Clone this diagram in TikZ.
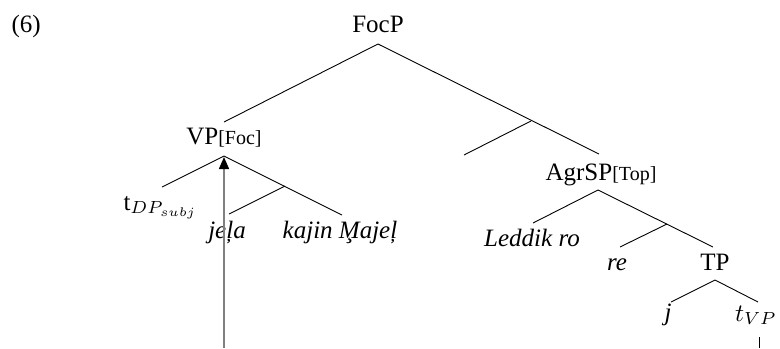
\documentclass[tikz,border=0pt]{standalone}
\usepackage{fontspec}
\setmainfont{Liberation Serif}
\usetikzlibrary{arrows.meta}
\newcommand{\Mced}{\ooalign{M\cr\hidewidth¸\hidewidth\cr}}
\begin{document}
\begin{tikzpicture}[x=0.4pt,y=-0.4pt,
  lbl/.style={inner sep=0pt,anchor=base,font=\fontsize{10}{12}\selectfont},
  branch/.style={draw=black,line width=0.36pt},
  movearrow/.style={draw=gray,line width=0.6pt,-{Triangle[length=4.8pt,width=4pt,color=black]}}]
\useasboundingbox (0,0) rectangle (780,348);
% labels
\node[lbl,anchor=base west] (ex) at (11,32) {(6)};
\node[lbl] (focp) at (378,32) {FocP};
\node[lbl] (vp) at (224,144) {VP{\fontsize{8}{10}\selectfont[Foc]}};
\node[lbl] (agrsp) at (601,180) {AgrSP{\fontsize{8}{10}\selectfont[Top]}};
\node[lbl,anchor=base west] (tdp) at (123,210) {t$_{DP_{subj}}$};
\node[lbl] (jela) at (227,238) {\itshape jeļa};
\node[lbl] (kajin) at (340,238) {\itshape kajin \Mced ajeļ};
\node[lbl] (leddik) at (532,246) {\itshape Leddik ro};
\node[lbl] (re) at (617,270) {\itshape re};
\node[lbl] (tp) at (715,270) {TP};
\node[lbl] (j) at (668,320) {\itshape j};
\node[lbl] (tvp) at (756,321) {$t_{VP}$};
% coordinates
\coordinate (focapex) at (378,44);
\coordinate (vptop) at (224,122);
\coordinate (agrtop) at (599,154);
\coordinate (focmid) at (531,121);
\coordinate (focspec) at (464,155);
\coordinate (vpapex) at (224,156);
\coordinate (tdptop) at (162,187);
\coordinate (kajintop) at (342,215);
\coordinate (vpmid) at (285,186);
\coordinate (jelatop) at (229,214);
\coordinate (agrapex) at (598,190);
\coordinate (leddiktop) at (533,223);
\coordinate (tptop) at (713,247);
\coordinate (agrmid) at (667,224);
\coordinate (retop) at (620,247);
\coordinate (tpapex) at (715,280);
\coordinate (jtop) at (671,302);
\coordinate (tvptop) at (758,302);
\coordinate (ticktop) at (759,337);
\coordinate (tickbot) at (759,348);
\coordinate (arrowbot) at (224,348);
\coordinate (arrowtip) at (224,157);
% branches
\draw[branch] (vptop) -- (focapex) -- (agrtop);
\draw[branch] (focmid) -- (focspec);
\draw[branch] (tdptop) -- (vpapex) -- (kajintop);
\draw[branch] (vpmid) -- (jelatop);
\draw[branch] (leddiktop) -- (agrapex) -- (tptop);
\draw[branch] (agrmid) -- (retop);
\draw[branch] (jtop) -- (tpapex) -- (tvptop);
\draw[branch] (ticktop) -- (tickbot);
% movement arrow
\draw[movearrow] (arrowbot) -- (arrowtip);
\end{tikzpicture}
\end{document}
